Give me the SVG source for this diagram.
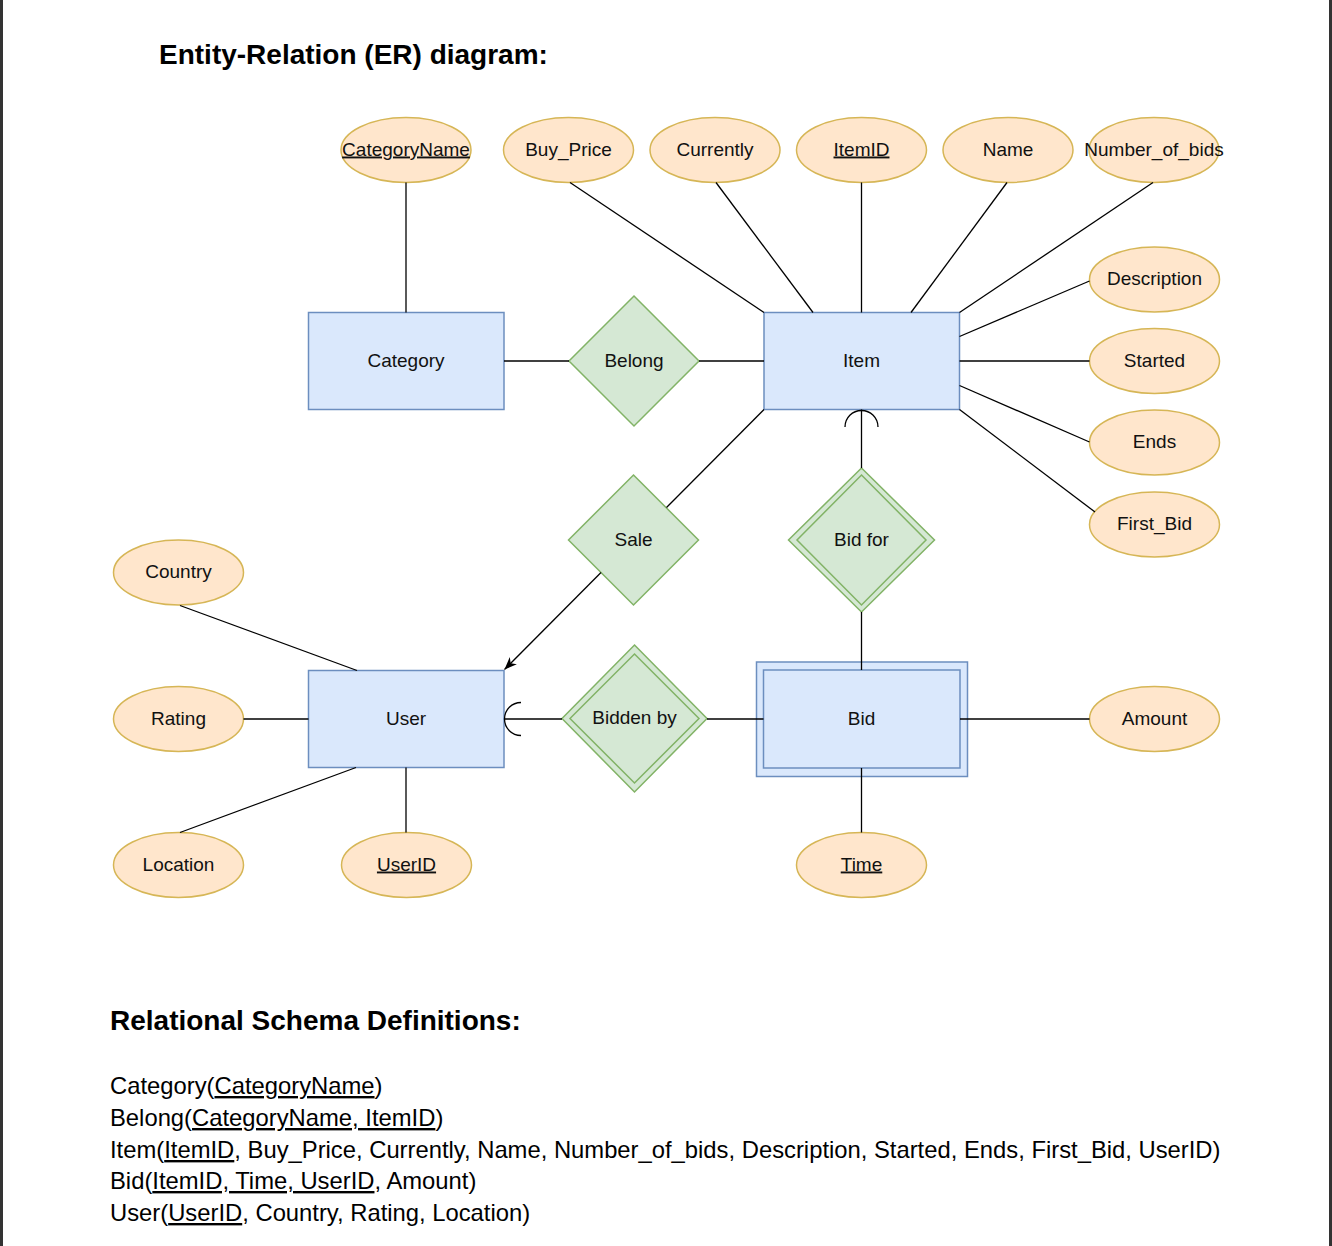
<svg xmlns="http://www.w3.org/2000/svg" width="1332" height="1246" viewBox="0 0 1332 1246">
<defs>
<style>
.ent{fill:#dae8fc;stroke:#6c8ebf;stroke-width:1.5}
.rel{fill:#d5e8d4;stroke:#82b366;stroke-width:1.5}
.att{fill:#ffe6cc;stroke:#d6b656;stroke-width:1.5}
.lbl{font-family:"Liberation Sans",Arial,Helvetica,sans-serif;font-size:19px;fill:#111;text-anchor:middle}
.u{text-decoration:underline}
.ln{stroke:#000;stroke-width:1.3;fill:none}
.hd{font-family:"Liberation Sans",Arial,Helvetica,sans-serif;font-size:28px;font-weight:bold;fill:#000}
.sc{font-family:"Liberation Sans",Arial,Helvetica,sans-serif;font-size:23.8px;fill:#000}
</style>
<marker id="arrow" viewBox="0 0 10 8" refX="10" refY="4" markerWidth="13" markerHeight="10" orient="auto" markerUnits="userSpaceOnUse">
<path d="M0,0 L10,4 L0,8 L3,4 z" fill="#000"/>
</marker>
</defs>
<rect x="0" y="0" width="1332" height="1246" fill="#fff"/>
<line x1="1.5" y1="0" x2="1.5" y2="1246" stroke="#333" stroke-width="3"/>
<line x1="1330.5" y1="0" x2="1330.5" y2="1246" stroke="#333" stroke-width="3"/>

<text class="hd" x="159" y="64">Entity-Relation (ER) diagram:</text>

<g id="CategoryName"><ellipse class="att" cx="406" cy="150" rx="65" ry="32.5"/><text class="lbl u" x="406" y="155.5">CategoryName</text></g>
<g id="Buy_Price"><ellipse class="att" cx="568.5" cy="150" rx="65" ry="32.5"/><text class="lbl" x="568.5" y="155.5">Buy_Price</text></g>
<g id="Currently"><ellipse class="att" cx="715" cy="150" rx="65" ry="32.5"/><text class="lbl" x="715" y="155.5">Currently</text></g>
<g id="ItemID"><ellipse class="att" cx="861.5" cy="150" rx="65" ry="32.5"/><text class="lbl u" x="861.5" y="155.5">ItemID</text></g>
<g id="Name"><ellipse class="att" cx="1008" cy="150" rx="65" ry="32.5"/><text class="lbl" x="1008" y="155.5">Name</text></g>
<g id="Number_of_bids"><ellipse class="att" cx="1154" cy="150" rx="65" ry="32.5"/><text class="lbl" x="1154" y="155.5">Number_of_bids</text></g>
<g id="Description"><ellipse class="att" cx="1154.5" cy="279.5" rx="65" ry="32.5"/><text class="lbl" x="1154.5" y="285">Description</text></g>
<g id="Started"><ellipse class="att" cx="1154.5" cy="361" rx="65" ry="32.5"/><text class="lbl" x="1154.5" y="366.5">Started</text></g>
<g id="Ends"><ellipse class="att" cx="1154.5" cy="442.5" rx="65" ry="32.5"/><text class="lbl" x="1154.5" y="448">Ends</text></g>
<g id="First_Bid"><ellipse class="att" cx="1154.5" cy="524.5" rx="65" ry="32.5"/><text class="lbl" x="1154.5" y="530">First_Bid</text></g>

<g id="Category"><rect class="ent" x="308.5" y="312.5" width="195.5" height="97"/><text class="lbl" x="406" y="366.5">Category</text></g>
<g id="Belong"><path class="rel" d="M634,296 L699,361 L634,426 L569,361 Z"/><text class="lbl" x="634" y="366.5">Belong</text></g>
<g id="Item"><rect class="ent" x="764" y="312.5" width="195.5" height="97"/><text class="lbl" x="861.5" y="366.5">Item</text></g>

<g id="Sale"><path class="rel" d="M633.5,475 L698.5,540 L633.5,605 L568.5,540 Z"/><text class="lbl" x="633.5" y="545.5">Sale</text></g>
<g id="Bid_for"><path class="rel" d="M861.5,468 L934.5,540 L861.5,612 L788.5,540 Z"/><path class="rel" d="M861.5,475 L926,540 L861.5,605 L797,540 Z"/><text class="lbl" x="861.5" y="545.5">Bid for</text></g>

<g id="Country"><ellipse class="att" cx="178.5" cy="572.5" rx="65" ry="32.5"/><text class="lbl" x="178.5" y="578">Country</text></g>
<g id="Rating"><ellipse class="att" cx="178.5" cy="719" rx="65" ry="32.5"/><text class="lbl" x="178.5" y="724.5">Rating</text></g>
<g id="Location"><ellipse class="att" cx="178.5" cy="865" rx="65" ry="32.5"/><text class="lbl" x="178.5" y="870.5">Location</text></g>
<g id="UserID"><ellipse class="att" cx="406.5" cy="865" rx="65" ry="32.5"/><text class="lbl u" x="406.5" y="870.5">UserID</text></g>

<g id="User"><rect class="ent" x="308.5" y="670.5" width="195.5" height="97"/><text class="lbl" x="406" y="724.5">User</text></g>
<g id="Bidden_by"><path class="rel" d="M634.5,645 L707,718.5 L634.5,792 L562,718.5 Z"/><path class="rel" d="M634.5,654 L699,718.5 L634.5,783 L570,718.5 Z"/><text class="lbl" x="634.5" y="724">Bidden by</text></g>
<g id="Bid"><rect class="ent" x="756.5" y="662" width="211" height="114.5"/><rect class="ent" x="763.5" y="670" width="196.5" height="98"/><text class="lbl" x="861.5" y="724.5">Bid</text></g>
<g id="Amount"><ellipse class="att" cx="1154.5" cy="719" rx="65" ry="32.5"/><text class="lbl" x="1154.5" y="724.5">Amount</text></g>
<g id="Time"><ellipse class="att" cx="861.5" cy="865" rx="65" ry="32.5"/><text class="lbl u" x="861.5" y="870.5">Time</text></g>

<g id="connectors">
<line class="ln" x1="406" y1="182.5" x2="406" y2="312.5"/>
<line class="ln" x1="570" y1="182.5" x2="764" y2="312.5"/>
<line class="ln" x1="716" y1="182.5" x2="813" y2="312.5"/>
<line class="ln" x1="861.5" y1="182.5" x2="861.5" y2="312.5"/>
<line class="ln" x1="1007" y1="182.5" x2="911" y2="312.5"/>
<line class="ln" x1="1153" y1="182.5" x2="959.5" y2="312.5"/>
<line class="ln" x1="1089.5" y1="281" x2="959.5" y2="336.5"/>
<line class="ln" x1="1089.5" y1="361" x2="959.5" y2="361"/>
<line class="ln" x1="1089.5" y1="442" x2="959.5" y2="385.5"/>
<line class="ln" x1="1095" y1="512" x2="959.5" y2="409.5"/>
<line class="ln" x1="504" y1="361" x2="569" y2="361"/>
<line class="ln" x1="699" y1="361" x2="764" y2="361"/>
<line class="ln" x1="764" y1="409.5" x2="666.5" y2="507.5"/>
<line class="ln" x1="601" y1="572.5" x2="504.5" y2="669.5" marker-end="url(#arrow)"/>
<line class="ln" x1="861.5" y1="409.5" x2="861.5" y2="468"/>
<path class="ln" d="M845,427 A16.5,16.5 0 0 1 878,427"/>
<line class="ln" x1="861.5" y1="612" x2="861.5" y2="670"/>
<line class="ln" x1="504" y1="719" x2="562" y2="719"/>
<path class="ln" d="M521,702.5 A16.5,16.5 0 0 0 521,735.5"/>
<line class="ln" x1="707" y1="719" x2="763.5" y2="719"/>
<line class="ln" x1="960" y1="719" x2="1089.5" y2="719"/>
<line class="ln" x1="861.5" y1="768" x2="861.5" y2="832.5"/>
<line class="ln" x1="180" y1="605.5" x2="357" y2="670.5"/>
<line class="ln" x1="243.5" y1="719" x2="308.5" y2="719"/>
<line class="ln" x1="180" y1="832.5" x2="356" y2="767.5"/>
<line class="ln" x1="406" y1="767.5" x2="406" y2="832.5"/>
</g>

<text class="hd" x="110" y="1030">Relational Schema Definitions:</text>
<text class="sc" x="110" y="1094">Category(<tspan class="u">CategoryName</tspan>)</text>
<text class="sc" x="110" y="1126">Belong(<tspan class="u">CategoryName, ItemID</tspan>)</text>
<text class="sc" x="110" y="1158">Item(<tspan class="u">ItemID</tspan>, Buy_Price, Currently, Name, Number_of_bids, Description, Started, Ends, First_Bid, UserID)</text>
<text class="sc" x="110" y="1189">Bid(<tspan class="u">ItemID, Time, UserID</tspan>, Amount)</text>
<text class="sc" x="110" y="1221">User(<tspan class="u">UserID</tspan>, Country, Rating, Location)</text>
</svg>
